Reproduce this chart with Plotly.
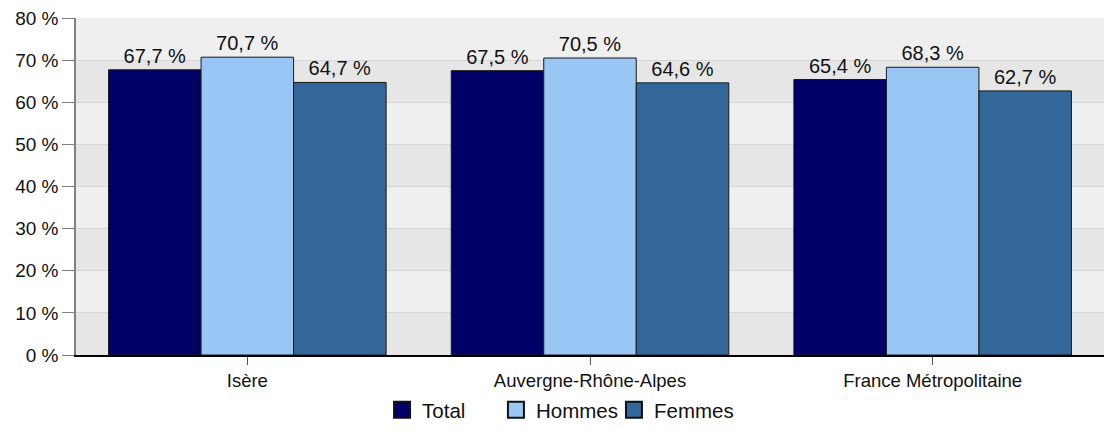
import plotly.graph_objects as go

categories = ["Isère", "Auvergne-Rhône-Alpes", "France Métropolitaine"]
series_names = ["Total", "Hommes", "Femmes"]
total = [67.7, 67.5, 65.4]
hommes = [70.7, 70.5, 68.3]
femmes = [64.7, 64.6, 62.7]
colors = ["#000066", "#99c6f5", "#336699"]
y_ticks = [0, 10, 20, 30, 40, 50, 60, 70, 80]
y_labels = [f"{v} %" for v in y_ticks]

FONT = "Liberation Sans, Arial, sans-serif"
legend_ids = ["legend", "legend2", "legend3"]
legend_x = [0.2977, 0.4085, 0.5233]

fig = go.Figure()
for name, vals, col in zip(series_names, [total, hommes, femmes], colors):
    fig.add_trace(go.Bar(
        x=categories, y=vals, name=name, showlegend=False,
        marker=dict(color=col, line=dict(color="#1a1a1a", width=1)),
        texttemplate="%{y:.1f} %", textposition="outside",
        constraintext="none",
        textfont=dict(size=20, color="#111111", family=FONT),
        cliponaxis=False,
    ))

# legend entries (one legend per series for exact spacing)
for name, col, lid in zip(series_names, colors, legend_ids):
    fig.add_trace(go.Scatter(
        x=[categories[0]], y=[None], name=name, mode="markers",
        marker=dict(symbol="square", size=16, color=col, line=dict(color="#111111", width=2)),
        legend=lid, showlegend=True, hoverinfo="skip",
    ))

# alternating background bands
shapes = []
for i in range(len(y_ticks) - 1):
    shapes.append(dict(
        type="rect", xref="paper", yref="y", x0=0, x1=1,
        y0=y_ticks[i], y1=y_ticks[i + 1],
        fillcolor="#e6e6e6" if i % 2 == 0 else "#efefef",
        line=dict(width=0), layer="below",
    ))

leg_common = dict(orientation="h", xanchor="left", y=-0.163, yanchor="middle",
                  font=dict(size=20.5, family=FONT, color="#111111"),
                  bgcolor="rgba(0,0,0,0)")
fig.update_layout(
    width=1106, height=432,
    margin=dict(l=76, r=2, t=18, b=68),
    paper_bgcolor="white", plot_bgcolor="white",
    separators=", ",
    barmode="group", bargap=0.19, bargroupgap=0,
    shapes=shapes,
    font=dict(family=FONT, color="#111111"),
    showlegend=True,
    legend=dict(x=legend_x[0], **leg_common),
    legend2=dict(x=legend_x[1], **leg_common),
    legend3=dict(x=legend_x[2], **leg_common),
)
fig.update_yaxes(
    range=[0, 80], tickmode="array", tickvals=y_ticks, ticktext=y_labels,
    showgrid=True, gridcolor="#d6d6d6", gridwidth=1,
    showline=True, linecolor="#808080", linewidth=1.5,
    ticks="outside", ticklen=12, tickcolor="#808080",
    tickfont=dict(size=19, family=FONT, color="#111111"),
    zeroline=False, automargin=False,
)
fig.update_xaxes(
    showline=True, linecolor="#000000", linewidth=1.5,
    ticks="outside", ticklen=8, tickcolor="#555555",
    tickfont=dict(size=18.5, family=FONT, color="#111111"),
    showgrid=False, automargin=False,
)

post = (
    "var h=document.documentElement,b=document.body;"
    "h.style.margin='0';h.style.padding='0';"
    "b.style.margin='0';b.style.padding='0';"
)
fig.write_html("out.html", config={"displayModeBar": False}, post_script=post)
